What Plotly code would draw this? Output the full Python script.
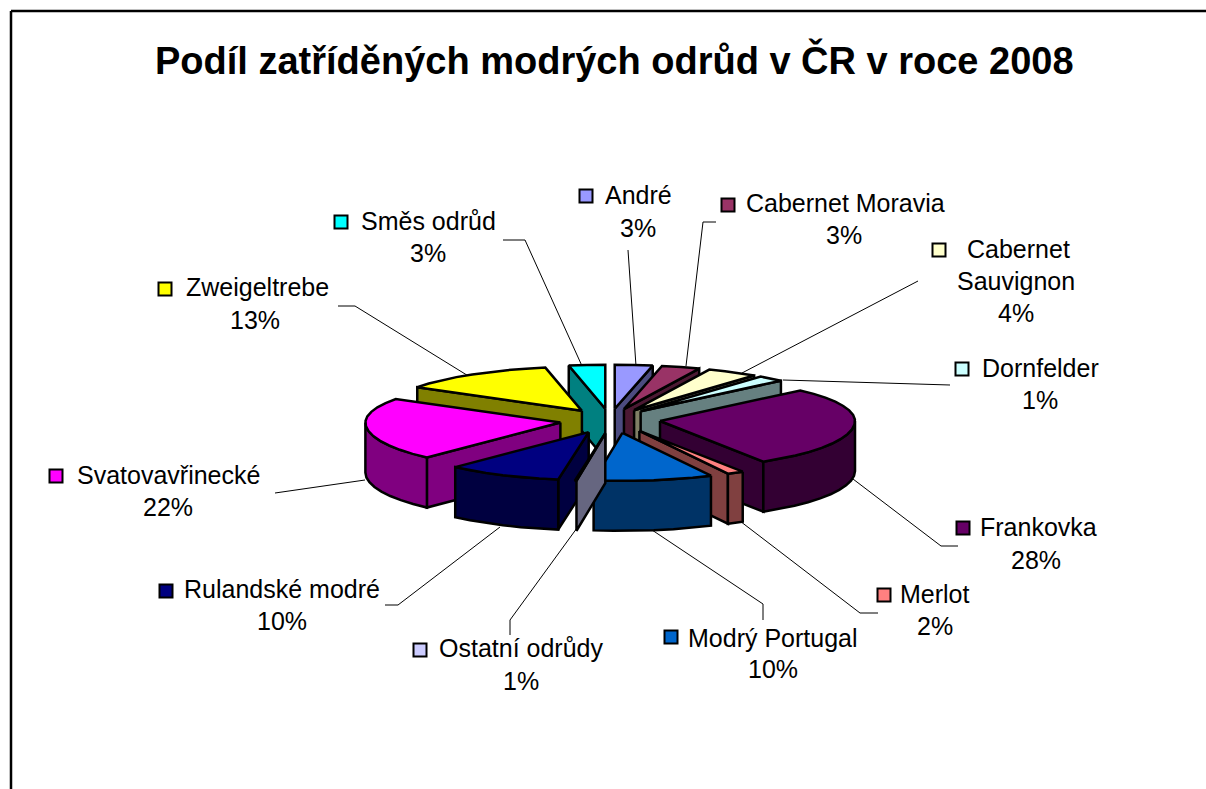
import numpy as np
import plotly.graph_objects as go

# ---- data ----
categories = ["André", "Cabernet Moravia", "Cabernet Sauvignon", "Dornfelder", "Frankovka", "Merlot",
              "Modrý Portugal", "Ostatní odrůdy", "Rulandské modré", "Svatovavřinecké", "Zweigeltrebe", "Směs odrůd"]
shares = [3, 3, 4, 1, 28, 2, 10, 1, 10, 22, 13, 3]
top_colors = ["#9999FF", "#993366", "#FFFFCC", "#CCFFFF", "#660066", "#FF8080",
              "#0066CC", "#CCCCFF", "#000080", "#FF00FF", "#FFFF00", "#00FFFF"]
side_colors = ["#4C4C80", "#4C1933", "#808066", "#668080", "#330033", "#804040",
               "#003366", "#666680", "#000040", "#800080", "#808000", "#008080"]
title_text = "Podíl zatříděných modrých odrůd v ČR v roce 2008"

# ---- layout constants (pixels on the page) ----
W, H = 1206, 789
CX, CY, RX, RY_BACK, RY_FRONT, DEPTH, EXPLODE = 610, 421, 195, 44, 48, 50, 50
# the original's 3D projection stretches angles a little
WARP_IN = [0, 12, 36, 39.6, 140.4, 147.6, 183.6, 187.2, 223, 360]
WARP_OUT = [0, 12.5, 38, 46, 148, 153, 188.5, 189, 223, 360]
# name line centres, percentage centre, key centres
label_lines = {
    "André": ([("André", 638, 195)], (638, 228), (586, 196)),
    "Cabernet Moravia": ([("Cabernet Moravia", 845, 203)], (844, 235), (728, 205)),
    "Cabernet Sauvignon": ([("Cabernet", 1018, 249), ("Sauvignon", 1016, 281)], (1016, 313), (939, 250)),
    "Dornfelder": ([("Dornfelder", 1040, 368)], (1040, 400), (962, 369)),
    "Frankovka": ([("Frankovka", 1038, 527)], (1036, 560), (963, 528)),
    "Merlot": ([("Merlot", 935, 594)], (935, 626), (884, 595)),
    "Modrý Portugal": ([("Modrý Portugal", 773, 638)], (773, 669), (671, 637)),
    "Ostatní odrůdy": ([("Ostatní odrůdy", 521, 648)], (521, 681), (420, 650)),
    "Rulandské modré": ([("Rulandské modré", 282, 589)], (282, 621), (166, 591)),
    "Svatovavřinecké": ([("Svatovavřinecké", 168, 475)], (168, 507), (56, 476)),
    "Zweigeltrebe": ([("Zweigeltrebe", 257, 287)], (255, 320), (165, 289)),
    "Směs odrůd": ([("Směs odrůd", 428, 221)], (428, 253), (341, 222)),
}
leaders = [
    [(628, 250), (636, 366)],
    [(716, 222), (703, 222), (686, 366)],
    [(918, 281), (742, 373)],
    [(950, 385), (783, 380)],
    [(958, 546), (941, 546), (853, 479)],
    [(878, 613), (860, 613), (736, 518)],
    [(763, 620), (763, 604), (652, 530)],
    [(510, 635), (510, 620), (577, 528)],
    [(385, 605), (398, 605), (500, 527)],
    [(275, 493), (365, 480)],
    [(338, 306), (355, 306), (470, 377)],
    [(503, 240), (525, 240), (582, 366)],
]


def warp(a):
    return np.interp(a, WARP_IN, WARP_OUT)


def rim(angle):
    a = np.radians(angle)
    ry = RY_BACK if np.cos(a) > 0 else RY_FRONT
    return RX * np.sin(a), -ry * np.cos(a)


fig = go.Figure()


def poly(xs, ys, color):
    fig.add_trace(go.Scatter(x=list(xs), y=list(ys), mode="lines", fill="toself", fillcolor=color,
                             line=dict(color="black", width=2.5), hoverinfo="skip", showlegend=False))


for pts in leaders:
    fig.add_trace(go.Scatter(x=[p[0] for p in pts], y=[p[1] for p in pts], mode="lines",
                             line=dict(color="black", width=1), hoverinfo="skip", showlegend=False))

edges = np.cumsum([0] + shares) * 3.6
slices = []
for i, name in enumerate(categories):
    start, end = edges[i], edges[i + 1]
    slices.append((np.cos(np.radians((start + end) / 2)), i, start, end))

for _, i, start, end in sorted(slices, key=lambda s: -s[0]):
    mid = np.radians((start + end) / 2)
    ax = CX + EXPLODE * np.sin(mid)
    ay = CY - EXPLODE * (RY_FRONT / RX) * np.cos(mid)
    s, e = warp(start), warp(end)
    n = max(2, int(round((e - s) / 6)) + 1)
    arc = np.linspace(s, e, n)
    rx, ry = zip(*[rim(a) for a in arc])
    rx = ax + np.array(rx)
    ry = ay + np.array(ry)
    # radial wall facing the viewer
    if np.sin(np.radians(s)) < 0:
        poly([ax, rx[0], rx[0], ax, ax], [ay, ry[0], ry[0] + DEPTH, ay + DEPTH, ay], side_colors[i])
    if np.sin(np.radians(e)) > 0:
        poly([ax, rx[-1], rx[-1], ax, ax], [ay, ry[-1], ry[-1] + DEPTH, ay + DEPTH, ay], side_colors[i])
    # outer wall facing the viewer
    o0, o1 = max(s, 90), min(e, 270)
    if o1 - o0 > 1:
        m = max(2, int(round((o1 - o0) / 6)) + 1)
        oarc = np.linspace(o0, o1, m)
        ox, oy = zip(*[rim(a) for a in oarc])
        ox = ax + np.array(ox)
        oy = ay + np.array(oy)
        poly(list(ox) + list(ox[::-1]) + [ox[0]], list(oy) + list(oy[::-1] + DEPTH) + [oy[0]], side_colors[i])
    poly([ax] + list(rx) + [ax], [ay] + list(ry) + [ay], top_colors[i])

FONT = "Liberation Sans"
annotations = [dict(x=614, y=60, xref="x", yref="y", text="<b>" + title_text + "</b>", showarrow=False,
                    font=dict(family=FONT, size=38, color="black"))]
keys_x, keys_y, keys_c = [], [], []
for i, name in enumerate(categories):
    lines, pct, key = label_lines[name]
    for txt, lx, ly in lines:
        annotations.append(dict(x=lx, y=ly, xref="x", yref="y", text=txt, showarrow=False,
                                font=dict(family=FONT, size=25, color="black")))
    annotations.append(dict(x=pct[0], y=pct[1], xref="x", yref="y", text=f"{shares[i]}%", showarrow=False,
                            font=dict(family=FONT, size=25, color="black")))
    keys_x.append(key[0])
    keys_y.append(key[1])
    keys_c.append(top_colors[i])

fig.add_trace(go.Scatter(x=keys_x, y=keys_y, mode="markers", hoverinfo="skip", showlegend=False,
                         marker=dict(symbol="square", size=13, color=keys_c, line=dict(color="black", width=2))))

fig.update_layout(
    width=W, height=H, margin=dict(l=0, r=0, t=0, b=0), paper_bgcolor="white", plot_bgcolor="white",
    xaxis=dict(range=[0, W], visible=False, fixedrange=True),
    yaxis=dict(range=[H, 0], visible=False, fixedrange=True),
    annotations=annotations,
    shapes=[
        dict(type="line", xref="x", yref="y", x0=11, y0=789, x1=11, y1=11, line=dict(color="black", width=2.5)),
        dict(type="line", xref="x", yref="y", x0=11, y0=11, x1=1206, y1=11, line=dict(color="black", width=2.5)),
    ],
)
fig.write_html("out.html", config={"displayModeBar": False},
               post_script="document.body.style.margin='0';document.documentElement.style.overflow='hidden';")
